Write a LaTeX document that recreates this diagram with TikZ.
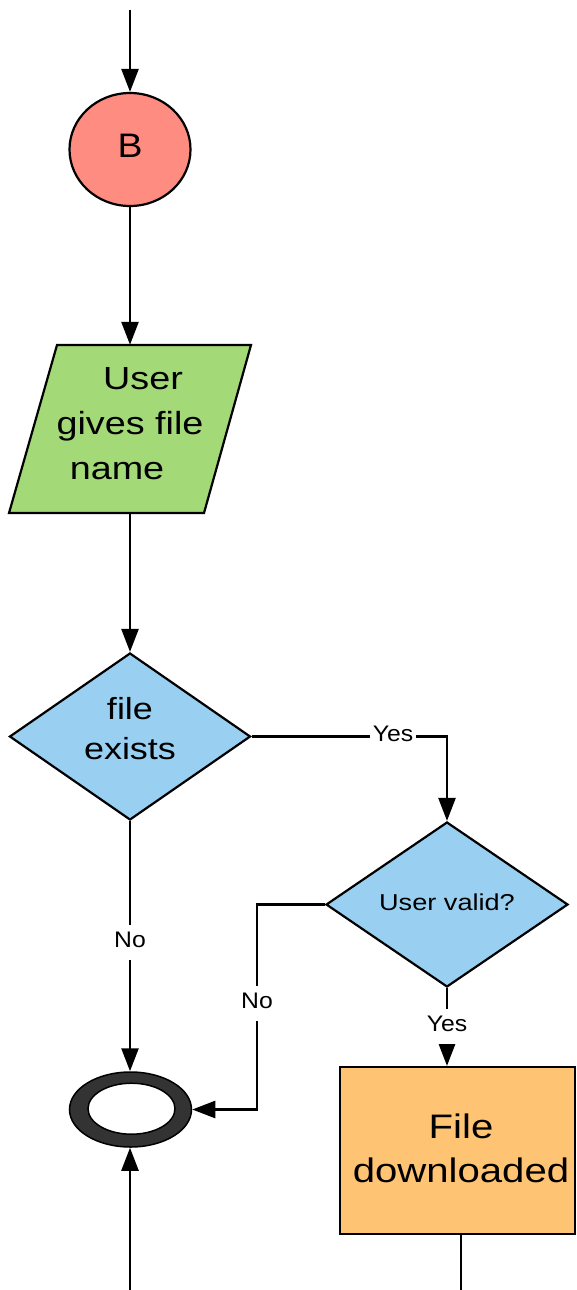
\documentclass[tikz,border=0pt]{standalone}
\usepackage{fontspec}
\setmainfont[FakeStretch=1.18]{Liberation Sans}
\newfontfamily\narrowsans[FakeStretch=1.1]{Liberation Sans}
\usetikzlibrary{shapes.geometric,arrows.meta}
\definecolor{bred}{RGB}{255,140,128}
\definecolor{pgreen}{RGB}{163,217,119}
\definecolor{dblue}{RGB}{153,208,242}
\definecolor{rorange}{RGB}{255,195,116}
\definecolor{ring}{RGB}{51,51,51}
\begin{document}
\begin{tikzpicture}[x=1pt,y=-1pt,
  conn/.style={draw=black, line width=2.5pt, -{Triangle[length=23pt,width=17pt]}},
  plain/.style={draw=black, line width=2.5pt},
  border/.style={draw=black, line width=2.2pt},
  lbl/.style={fill=white, font=\narrowsans\fontsize{22.5}{26}\selectfont, inner xsep=3pt, inner ysep=7pt, text height=16pt, text depth=5pt},
  dec/.style={diamond, border, fill=dblue, inner sep=0pt, align=center, aspect=1.44}
]
\useasboundingbox (0,0) rectangle (576,1290);

% start circle
\node[ellipse, border, fill=bred, minimum width=121pt, minimum height=113pt, inner sep=0pt,
      font=\narrowsans\fontsize{34}{40}\selectfont] (b) at (130,149.5) {B\rule[-8pt]{0pt}{0pt}};

% parallelogram
\draw[border, fill=pgreen] (57,345) -- (251,345) -- (204,513) -- (9,513) -- cycle;
\node[rectangle, minimum width=194pt, minimum height=168pt, inner sep=0pt, align=center,
      font=\fontsize{32}{45}\selectfont] (p) at (130,429)
      {\hspace*{26pt}User\\gives file\\name\hspace*{26pt}\rule[-12pt]{0pt}{0pt}};

% decisions
\node[dec, minimum width=241pt, minimum height=167pt, font=\fontsize{30.5}{40}\selectfont]
      (d1) at (130,736.5) {file\\exists\rule[-16pt]{0pt}{0pt}};
\node[dec, minimum width=242pt, minimum height=165pt, font=\fontsize{23}{26}\selectfont]
      (d2) at (447,904.5) {User valid?\rule[-5pt]{0pt}{0pt}};

% process
\node[rectangle, border, fill=rorange, minimum width=235pt, minimum height=167pt, inner sep=0pt,
      align=center, font=\fontsize{34}{44}\selectfont] (dl) at (457.5,1150.5)
      {\hspace*{7pt}File\\\hspace*{7pt}downloaded\rule[-5pt]{0pt}{0pt}};

% end ring
\node[ellipse, draw=black, line width=1.5pt, fill=ring, minimum width=122pt, minimum height=75pt, inner sep=0pt] (e) at (130.5,1109.5) {};
\node[ellipse, draw=black, line width=1.5pt, fill=white, minimum width=87pt, minimum height=51pt, inner sep=0pt] (ei) at (131.5,1108.7) {};

% free ends
\coordinate (top) at (130,10);
\coordinate (ebot) at (130,1290);
\coordinate (dlbot) at (461,1290);
\coordinate (nox) at (257,904.5);

% connectors
\draw[conn] (top) -- (b);
\draw[conn] (b) -- (p.north);
\draw[conn] (p.south) -- (d1);
\draw[conn] (d1.east) -| (d2.north);
\draw[conn] (d1.south) -- (d1.south |- e.north);
\draw[conn] (d2.west) -- (nox) |- (e.east);
\draw[conn] (d2.south) -- (dl.north -| d2.south);
\draw[conn] (ebot) -- (e.south -| ebot);
\draw[plain] (dlbot |- dl.south) -- (dlbot);

% labels
\node[lbl] (lyes1) at (393,736) {Yes};
\node[lbl] (lno1) at (130,942) {No};
\node[lbl] (lno2) at (257,1003) {No};
\node[lbl] (lyes2) at (447,1026) {Yes};
\end{tikzpicture}
\end{document}
